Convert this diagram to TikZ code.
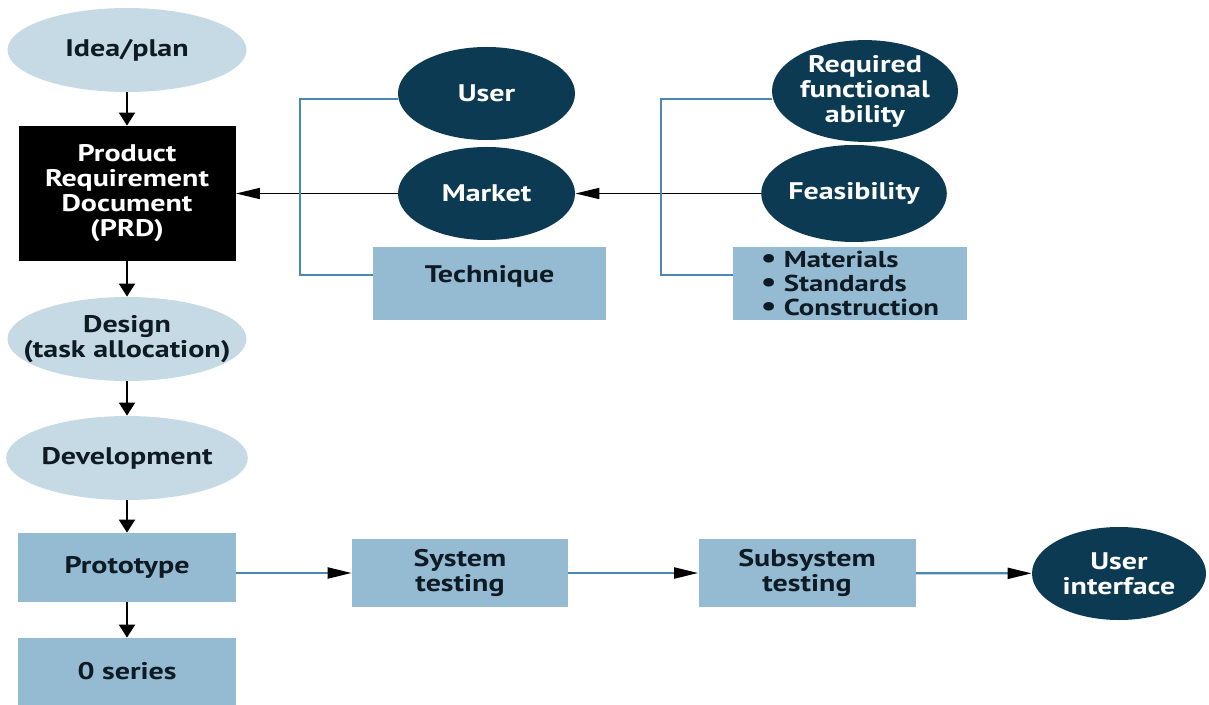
\documentclass[tikz,border=0pt]{standalone}
\usepackage{fontspec}
\setmainfont{PT Sans}[FakeStretch=1.25]
\usetikzlibrary{shapes.geometric,arrows.meta}
\definecolor{ovallight}{HTML}{C6DAE6}
\definecolor{ovaldark}{HTML}{0B3A52}
\definecolor{boxblue}{HTML}{95BBD2}
\definecolor{linkblue}{HTML}{4A88B0}
\definecolor{inkdark}{HTML}{0E1A24}
\newcommand{\bigdot}{{\fontsize{14}{11.8}\selectfont\textbullet}}

\begin{document}
\begin{tikzpicture}[x=0.5pt, y=-0.5pt,
    every node/.style={font=\bfseries\fontsize{12}{12.5}\selectfont},
    lightoval/.style={ellipse, fill=ovallight, text=inkdark, align=center,
        inner sep=0pt, minimum width=119.5pt, minimum height=42pt},
    darkoval/.style={ellipse, fill=ovaldark, text=white, align=center, inner sep=0pt},
    palebox/.style={rectangle, fill=boxblue, text=inkdark, align=center},
    blackbox/.style={rectangle, fill=black, text=white, align=center},
    downarrow/.style={line width=1pt, -{Triangle[length=6.5pt,width=8pt]}},
    sidearrow/.style={line width=0.8pt, -{Triangle[length=12pt,width=5.5pt]}},
    flowarrow/.style={line width=1.1pt, draw=linkblue, -{Triangle[length=12pt,width=5.5pt,color=black]}},
    bracket/.style={line width=1.1pt, draw=linkblue}]
    \useasboundingbox (0,0) rectangle (1209,705);
    % main column
    \node[lightoval] (idea) at (127,50) {Idea/plan};
    \node[blackbox, minimum width=108.5pt, minimum height=67.5pt] (prd) at (127,193.5)
        {Product\\Requirement\\Document\\(PRD)};
    \node[lightoval, inner xsep=-12pt] (design) at (127,339) {Design\\(task allocation)};
    \node[lightoval] (devel) at (127,458) {Development};
    \node[palebox, minimum width=109pt, minimum height=34.5pt] (proto) at (127,567.5) {Prototype};
    \node[palebox, minimum width=109pt, minimum height=33.5pt] (zero) at (127,671.5) {0 series};
    \foreach \a/\b in {idea/prd, prd/design, design/devel, devel/proto, proto/zero}
        \draw[downarrow] (\a) -- (\b);
    % inputs to the PRD
    \node[darkoval, minimum width=88.5pt, minimum height=46.5pt] (user) at (486.5,93.5) {User};
    \node[darkoval, minimum width=88.5pt, minimum height=46.5pt] (market) at (486.5,193.5) {Market};
    \node[palebox, minimum width=116.5pt, minimum height=36.5pt, text depth=10pt] (tech) at (489.5,283.5) {Technique};
    \node[darkoval, minimum width=93pt, minimum height=49pt, inner xsep=-3pt] (reqfun) at (865,91)
        {Required\\functional\\ability};
    \node[darkoval, minimum width=91pt, minimum height=48.5pt] (feas) at (854,193.5) {Feasibility};
    \node[palebox, minimum width=117pt, minimum height=36.5pt, inner sep=0pt, align=left,
        font=\bfseries\fontsize{11.5}{11.8}\selectfont] (mater) at (850,283.5)
        {\bigdot\ Materials\\\bigdot\ Standards\\\bigdot\ Construction};
    \draw[sidearrow] (market) -- (prd);
    \draw[sidearrow] (feas) -- (market);
    \draw[bracket] ([yshift=-2.75pt]user.west) -| ([xshift=-36.5pt,yshift=4.25pt]tech.west)
        -- ([yshift=4.25pt]tech.west);
    \draw[bracket] ([yshift=-4pt]reqfun.west) -| ([xshift=-36pt,yshift=4.25pt]mater.west)
        -- ([yshift=4.25pt]mater.west);
    % testing chain
    \node[palebox, minimum width=108pt, minimum height=34pt] (systest) at (460,573) {System\\testing};
    \node[palebox, minimum width=108.5pt, minimum height=34pt] (subtest) at (807,573) {Subsystem\\testing};
    \node[darkoval, minimum width=87pt, minimum height=46.5pt] (uif) at (1119,573.5) {User\\interface};
    \draw[flowarrow] (proto.east |- systest.west) -- (systest.west);
    \draw[flowarrow] (systest) -- (subtest);
    \draw[flowarrow] (subtest) -- (uif);
\end{tikzpicture}
\end{document}
